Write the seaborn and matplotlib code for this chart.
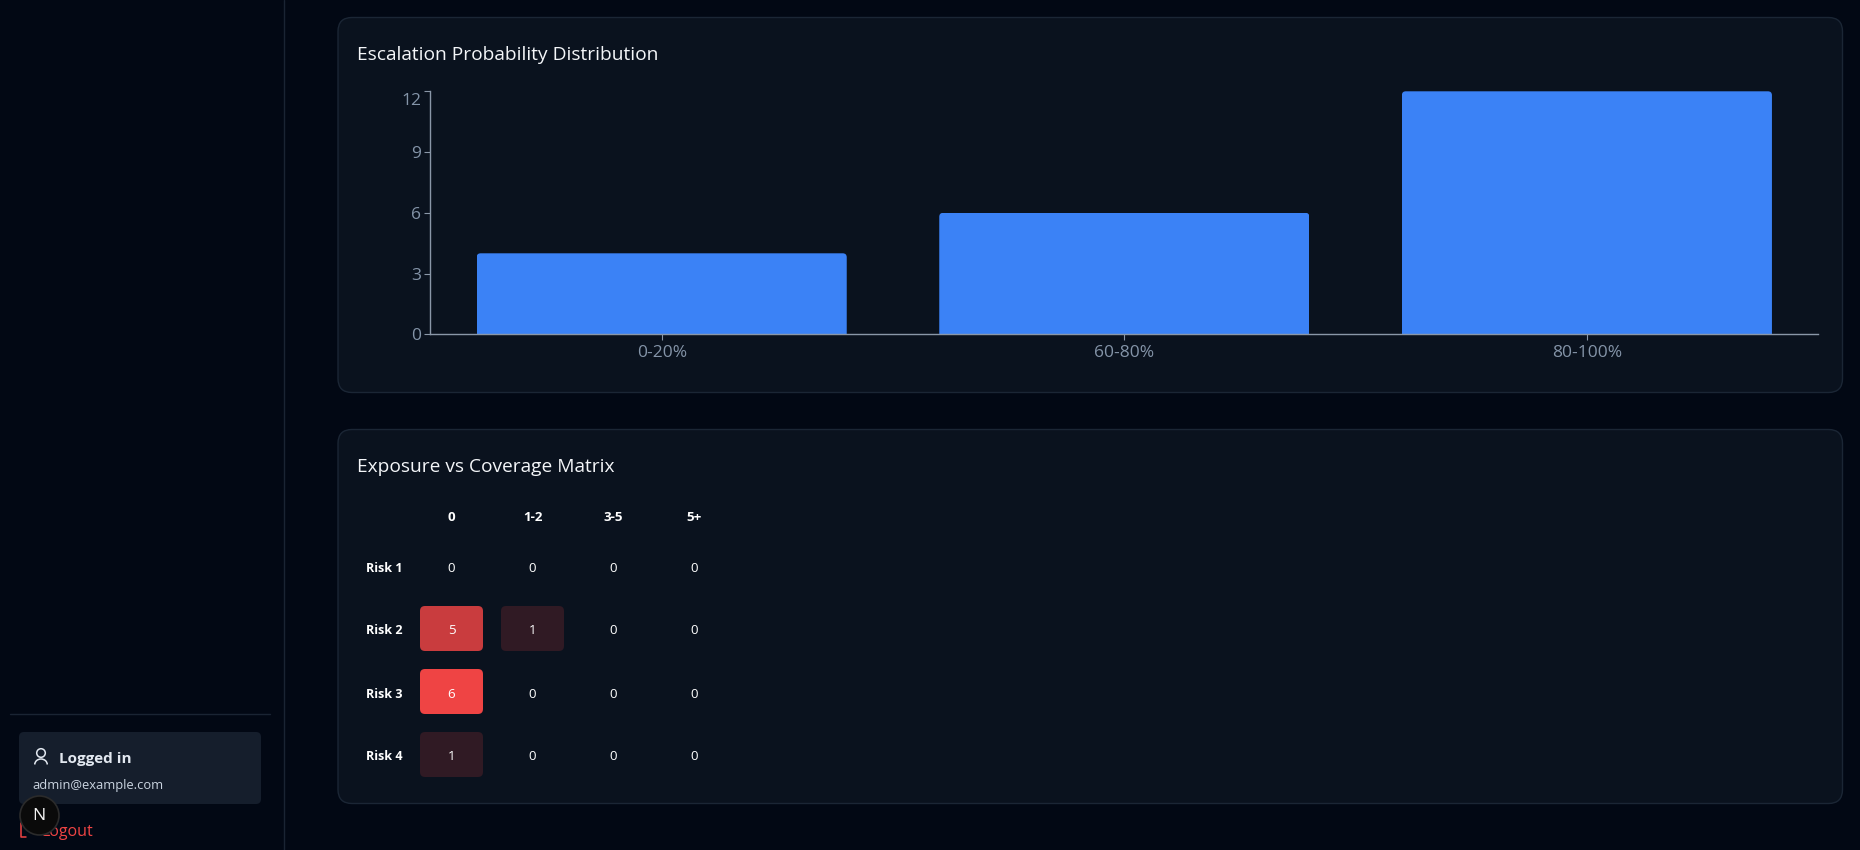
import matplotlib
matplotlib.use("Agg")
import matplotlib.pyplot as plt
import seaborn as sns
import numpy as np
from matplotlib.patches import FancyBboxPatch, Circle, Arc
from matplotlib.path import Path
from matplotlib.colors import LinearSegmentedColormap
from matplotlib.transforms import ScaledTranslation

# ---- data ----
prob_bins = ["0-20%", "60-80%", "80-100%"]
prob_counts = [4, 6, 12]
y_ticks = [0, 3, 6, 9, 12]
coverage_labels = ["0", "1-2", "3-5", "5+"]
risk_labels = ["Risk 1", "Risk 2", "Risk 3", "Risk 4"]
risk_1 = [0, 0, 0, 0]
risk_2 = [5, 1, 0, 0]
risk_3 = [6, 0, 0, 0]
risk_4 = [1, 0, 0, 0]

# ---- style ----
PAGE = "#020814"
PANEL = "#0a121e"
BORDER = "#1b2635"
BLUE = "#3b82f6"
RED = "#ef4444"
AXIS = "#8a97a8"
TICKTXT = "#8494a8"

sns.set_theme(style="dark")
plt.rcParams["font.family"] = ["Open Sans", "DejaVu Sans"]
W, H = 1860, 850
fig = plt.figure(figsize=(W / 100, H / 100), dpi=100, facecolor=PAGE)


def axes_px(x0, y0, x1, y1, **kw):
    return fig.add_axes([x0 / W, 1 - y1 / H, (x1 - x0) / W, (y1 - y0) / H], **kw)


def shift_down(artist, px):
    artist.set_transform(artist.get_transform() + ScaledTranslation(0, -px / 100, fig.dpi_scale_trans))


# chrome layer in pixel coordinates
bg = axes_px(0, 0, W, H, zorder=0)
bg.set_xlim(0, W)
bg.set_ylim(H, 0)
bg.axis("off")


def rrect(x0, y0, x1, y1, r):
    return FancyBboxPatch((x0 + r, y0 + r), x1 - x0 - 2 * r, y1 - y0 - 2 * r,
                          boxstyle=f"round,pad={r},rounding_size={r}")


for (x0, y0, x1, y1) in [(338, 17.5, 1842.5, 392.5), (338, 429.5, 1842.5, 803.5)]:
    p = rrect(x0, y0, x1, y1, 14)
    p.set(facecolor=PANEL, edgecolor=BORDER, linewidth=1)
    bg.add_patch(p)

bg.text(357, 54.5, "Escalation Probability Distribution", color="#f4f6f9",
        fontsize=13.8, va="center", ha="left")
bg.text(357, 466.5, "Exposure vs Coverage Matrix", color="#f4f6f9",
        fontsize=13.8, va="center", ha="left")

# sidebar
bg.plot([283.5, 283.5], [0, H], color="#1a2433", lw=1)
bg.plot([10, 270], [713.5, 713.5], color="#1a2433", lw=1)
box = rrect(19, 732, 261, 804, 5)
box.set(facecolor="#151e2c", edgecolor="none")
bg.add_patch(box)
bg.add_patch(Circle((41, 753), 4.3, fill=False, ec="#e2e8f0", lw=1.1))
bg.add_patch(Arc((41, 764.5), 12.5, 11, theta1=180, theta2=360, ec="#e2e8f0", lw=1.1))
bg.text(59, 759.5, "Logged in", color="#e2e8f0", fontsize=11, fontweight="bold",
        va="center", ha="left")
bg.text(32, 785, "admin@example.com", color="#cbd5e1", fontsize=9.3,
        va="center", ha="left")
bg.plot([26, 20.5, 20.5, 26], [823, 823, 837, 837], color=RED, lw=1.1)
bg.text(41, 832.5, "Logout", color=RED, fontsize=11.5, va="center", ha="left")
bg.add_patch(Circle((39.5, 815.5), 19.5, facecolor="#0a0a0a", edgecolor="#2b2b2b", lw=1.2, zorder=5))
bg.text(39, 816, "N", color="#f2f2f2", fontsize=12.5, va="center", ha="center", zorder=6)

# ---- bar chart ----
ax = axes_px(430.4, 91.3, 1818.2, 334.3, zorder=2)
ax.patch.set_alpha(0)
sns.barplot(x=prob_bins, y=prob_counts, color=BLUE, saturation=1, width=0.8, linewidth=0, ax=ax)
ax.set_xlim(-0.5, 2.5)
ax.set_ylim(0, 12)
ax.set_yticks(y_ticks)
for s in ["top", "right"]:
    ax.spines[s].set_visible(False)
for s in ["left", "bottom"]:
    ax.spines[s].set_visible(True)
    ax.spines[s].set_color(AXIS)
    ax.spines[s].set_linewidth(1)
ax.tick_params(axis="both", length=4.3, width=0.8, color=AXIS, labelcolor=TICKTXT,
               labelsize=12.5, left=True, bottom=True, pad=2.2)
ax.grid(False)
ax.set_xlabel("")
ax.set_ylabel("")
ax.tick_params(axis="x", pad=3.5)
# rounded top corners on the bars
fig.canvas.draw()
for bar in ax.patches:
    ext = bar.get_window_extent()
    clip = rrect(ext.x0, H - ext.y1, ext.x1, H - ext.y0 + 8, 4)
    clip.set_transform(bg.transData)
    bar.set_clip_path(clip)
# the top tick label sits below its tick
shift_down(ax.get_yticklabels()[-1], 8)

# ---- heat matrix ----
hx0, hy0, cw, ch, cell_w, cell_h = 411, 533.5, 81, 63, 63, 45
hm = axes_px(hx0, hy0, hx0 + 4 * cw, hy0 + 4 * ch, zorder=2)
hm.patch.set_alpha(0)
matrix = np.array([risk_1, risk_2, risk_3, risk_4])
cmap = LinearSegmentedColormap.from_list("risk", [PANEL, RED])
sns.heatmap(matrix, ax=hm, cmap=cmap, vmin=0, vmax=6, cbar=False, annot=True, fmt="d",
            annot_kws={"color": "white", "fontsize": 9.6, "fontweight": "normal"},
            xticklabels=coverage_labels, yticklabels=risk_labels)
for t in hm.texts:
    t.set_color("white")
    shift_down(t, 3)
hm.xaxis.tick_top()
hm.tick_params(axis="x", length=0, pad=6.8, labelsize=9.6, labelcolor="white", rotation=0)
hm.tick_params(axis="y", length=0, pad=32.4, labelsize=9, labelcolor="white", rotation=0)
for lab in hm.get_xticklabels() + hm.get_yticklabels():
    lab.set_fontweight("bold")
for lab in hm.get_yticklabels():
    lab.set_ha("left")
    shift_down(lab, 3)
# rounded cells with gaps between them
cells = []
for r in range(4):
    for c in range(4):
        cx = hx0 + cw * (c + 0.5)
        cy = hy0 + ch * (r + 0.5)
        pp = rrect(cx - cell_w / 2, cy - cell_h / 2, cx + cell_w / 2, cy + cell_h / 2, 5)
        cells.append(pp.get_transform().transform_path(pp.get_path()))
mesh = hm.collections[0]
mesh.set_clip_path(Path.make_compound_path(*cells), bg.transData)

fig.savefig("out.png", dpi=100, facecolor=PAGE)
